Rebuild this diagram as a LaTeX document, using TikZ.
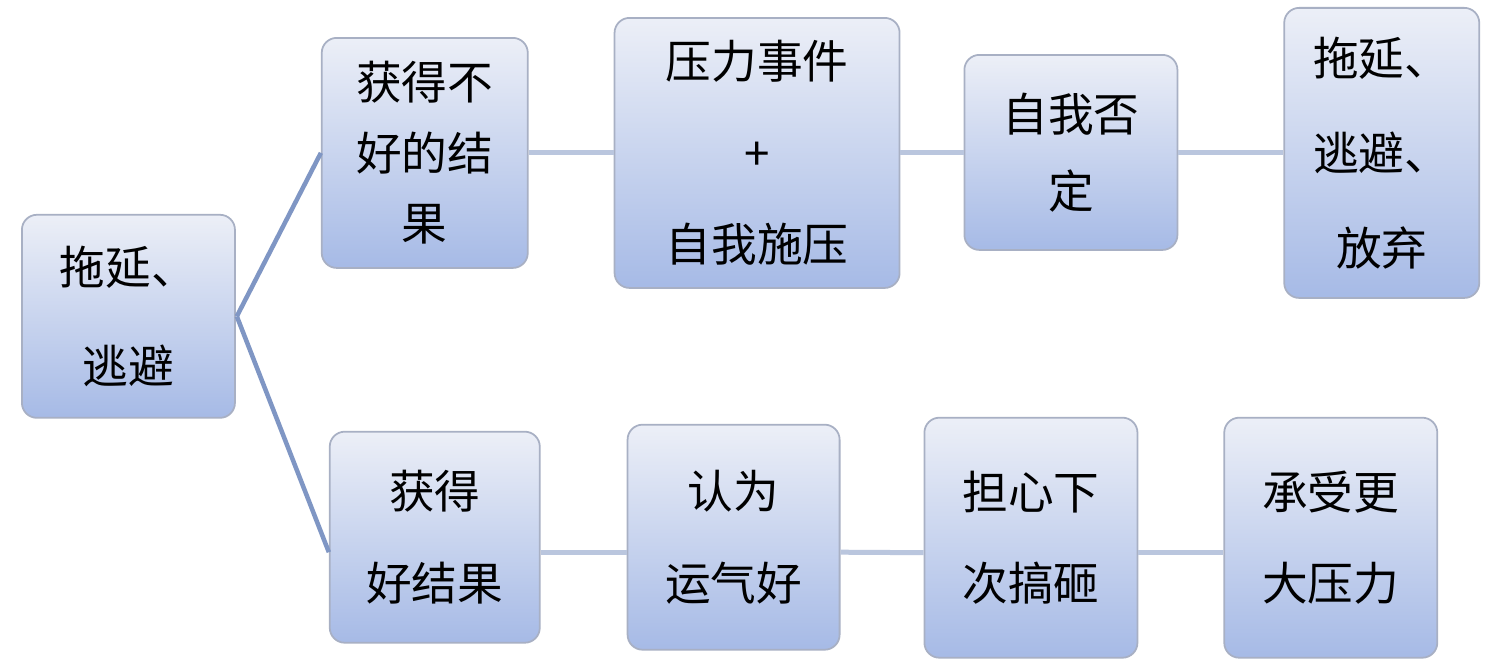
\documentclass[tikz,border=0pt]{standalone}
\usepackage{fontspec}
\setmainfont{Noto Sans CJK SC}
\usetikzlibrary{calc}
\definecolor{bord}{HTML}{A8B0C4}
\definecolor{ftop}{HTML}{ECEFF7}
\definecolor{fbot}{HTML}{A6BAE6}
\definecolor{lnA}{HTML}{7F96C4}
\definecolor{lnB}{HTML}{BAC6DE}
\tikzset{
 box/.style={draw=bord,line width=1pt,rounded corners=0.3cm,top color=ftop,bottom color=fbot,align=center,inner sep=0pt,
   font=\fontsize{26}{40}\selectfont},
 trunk/.style={draw=lnA,line width=0.09cm},
 link/.style={draw=lnB,line width=0.1cm}
}
\newcommand{\mkbox}[6]{\node[box,minimum width=#3*0.02cm-#1*0.02cm,minimum height=#4*0.02cm-#2*0.02cm,font=\fontsize{26}{#6}\selectfont] (#5) at ({(#1+#3)*0.01},{-(#2+#4)*0.01}) }
\begin{document}
\begin{tikzpicture}
\useasboundingbox (0,0) rectangle (30.04,-13.32);
\fill[white] (0,0) rectangle (30.04,-13.32);
\mkbox{22}{215}{235}{418}{a}{56}{拖延、\\逃避};
\mkbox{322}{38}{528}{268}{b1}{40}{获得不\\好的结\\果};
\mkbox{615}{18}{900}{288}{b2}{52}{压力事件\\+\\自我施压};
\mkbox{965}{55}{1178}{250}{b3}{44}{自我否\\定};
\mkbox{1285}{8}{1480}{298}{b4}{54}{拖延、\\逃避、\\放弃};
\mkbox{330}{432}{540}{643}{c1}{52}{获得\\好结果};
\mkbox{628}{425}{840}{650}{c2}{52}{认为\\运气好};
\mkbox{925}{418}{1138}{658}{c3}{52}{担心下\\次搞砸};
\mkbox{1225}{418}{1438}{658}{c4}{52}{承受更\\大压力};
\coordinate (j) at ($(a.east)+(0.02,0)$);
\begin{scope}[on background layer/.style={}]
\end{scope}
\draw[trunk] (j) -- (b1.west);
\draw[trunk] (j) -- ($(c1.west)+(0,-0.3)$);
\draw[link] (b1.east) -- (b2.west);
\draw[link] (b2.east |- b3.west) -- (b3.west);
\draw[link] (b3.east) -- (b4.west |- b3.east);
\draw[link] ($(c1.east)+(0,-0.3)$) -- ($(c2.west)+(0,-0.3)$);
\draw[link] ($(c2.east)+(0,-0.3)$) -- ($(c3.west)+(0,-0.3)$);
\draw[link] ($(c3.east)+(0,-0.3)$) -- ($(c4.west)+(0,-0.3)$);
\end{tikzpicture}
\end{document}
